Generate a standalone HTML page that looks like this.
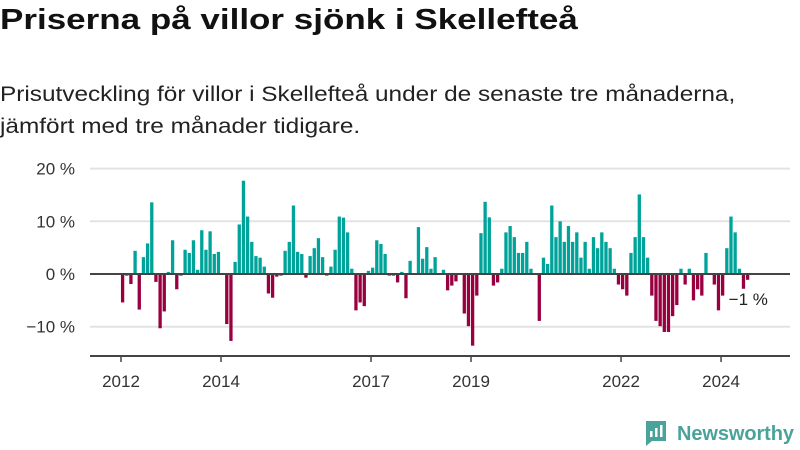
<!DOCTYPE html>
<html><head><meta charset="utf-8"><style>
body{margin:0;width:800px;height:450px;background:#fff;font-family:"Liberation Sans",sans-serif;overflow:hidden;position:relative}
h1{position:absolute;left:0;top:4px;margin:0;font-size:29px;font-weight:bold;color:#111;transform-origin:0 0;transform:scaleX(1.207);white-space:nowrap}
p{position:absolute;left:0;top:79px;margin:0;font-size:21px;line-height:32px;color:#222;transform-origin:0 0;transform:scaleX(1.16);white-space:nowrap}
svg{position:absolute;left:0;top:0}
</style></head><body>
<h1>Priserna på villor sjönk i Skellefteå</h1>
<p>Prisutveckling för villor i Skellefteå under de senaste tre månaderna,<br>jämfört med tre månader tidigare.</p>
<svg id="chart" width="800" height="450"></svg>
<script>
const values=[-5.4,-0.3,-1.9,4.4,-6.75,3.2,5.8,13.6,-1.5,-10.3,-7.1,0.4,
6.4,-2.9,-0.3,4.6,4.0,6.4,0.8,8.3,4.6,8.1,3.8,4.2,
0,-9.5,-12.7,2.3,9.4,17.7,10.9,6.1,3.4,3.1,1.4,-3.7,
-4.5,-0.5,-0.3,4.4,6.1,13.0,4.2,3.8,-0.7,3.4,4.9,6.8,
3.2,-0.3,1.4,4.6,10.9,10.7,7.9,1.0,-6.9,-5.4,-6.1,0.6,
1.2,6.4,5.7,3.8,-0.3,-0.3,-1.6,0.4,-4.6,2.5,0,8.9,
2.9,5.1,1.0,3.2,0,0.8,-3.1,-2.2,-1.4,0,-7.5,-9.9,
-13.6,-4.1,7.75,13.7,10.75,-2.2,-1.6,1.0,7.9,9.1,7.0,4.0,
4.0,6.1,1.0,0,-8.9,3.1,1.9,13.0,7.0,10.0,6.1,9.1,
6.1,7.9,3.1,6.1,1.0,7.0,4.9,7.9,6.1,4.9,1.0,-2.0,
-2.9,-4.1,4.0,7.0,15.1,7.0,3.1,-4.1,-8.9,-9.9,-11,-11,
-8.0,-5.9,1.0,-2.0,1.0,-5.0,-2.9,-4.1,4.0,0,-2.0,-6.9,
-4.1,4.9,10.9,7.9,1.0,-2.8,-1.1];
const startYear=2012;
const yTicks=[20,10,0,-10];
const yTickLabels=["20 %","10 %","0 %","\u221210 %"];
const xTickYears=[2012,2014,2017,2019,2022,2024];
const lastLabel="\u22121 %";
const NS="http://www.w3.org/2000/svg",svg=document.getElementById('chart');
const x=i=>121+i*4.167+1.6, y=v=>274-v*5.27;
const xYear=yr=>121+(yr-startYear)*12*4.167+1.6;
function mk(t,a){const e=document.createElementNS(NS,t);for(const k in a)e.setAttribute(k,a[k]);svg.appendChild(e);return e;}
yTicks.forEach((v,k)=>{
 if(v!==0){const g=mk('line',{x1:90,x2:790,y1:y(v),y2:y(v),stroke:'#e3e3e3','stroke-width':2});
 
 }
 const t=mk('text',{x:75,y:y(v)+6,'text-anchor':'end','font-size':17,fill:'#333'});t.textContent=yTickLabels[k];
 
 
});
values.forEach((v,i)=>{
 if(v===0)return;
 const r=mk('rect',{x:x(i)-1.65,width:3.3,y:v>0?y(v):y(0),height:Math.abs(y(v)-y(0)),fill:v>0?'#00a39a':'#990040'});
 
 
});
const z=mk('line',{x1:90,x2:790,y1:y(0),y2:y(0),stroke:'#444','stroke-width':2});


const ax=mk('line',{x1:90,x2:790,y1:356,y2:356,stroke:'#444','stroke-width':2});


xTickYears.forEach(yr=>{
 const tk=mk('line',{x1:xYear(yr)-1.6,x2:xYear(yr)-1.6,y1:356,y2:362,stroke:'#444','stroke-width':1.5});
 
 
 const t=mk('text',{x:xYear(yr)-1.6,y:387,'text-anchor':'middle','font-size':17,fill:'#333'});t.textContent=yr;
 
 
});
const li=values.length-1;
const lt=mk('text',{x:x(li)-19,y:305,'font-size':17,fill:'#222'});lt.textContent=lastLabel;


</script>
<svg width="800" height="450">
 <path d="M646 421 h20 v20 h-14 l-6 5 z" fill="#4aa39a"/>
 <rect x="650" y="431" width="2.5" height="6" fill="#fff"/><rect x="655" y="428" width="2.5" height="9" fill="#fff"/><rect x="660" y="425" width="2.5" height="12" fill="#fff"/>
 <text x="677" y="440" font-size="20" font-weight="bold" fill="#4aa39a" font-family="Liberation Sans, sans-serif" textLength="117">Newsworthy</text>
</svg>
</body></html>
